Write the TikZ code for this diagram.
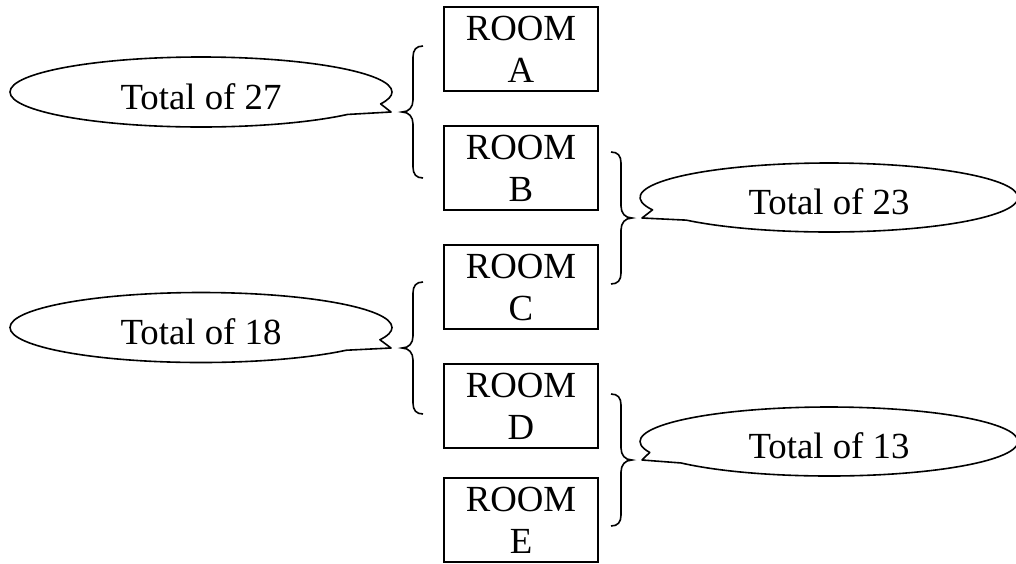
\documentclass[tikz,border=0pt]{standalone}
\usepackage{fontspec}
\setmainfont{Liberation Serif}
\usetikzlibrary{shapes.callouts,calc}
\begin{document}
\begin{tikzpicture}[x=0.5pt,y=-0.5pt,
  txt/.style={font=\fontsize{18.4}{21}\selectfont},
  room/.style={txt,draw,line width=0.9pt,minimum width=77pt,minimum height=42pt,inner sep=0pt,outer sep=0pt,align=center},
  bubble/.style={txt,ellipse callout,draw,line width=0.8pt,line join=round,minimum width=191pt,minimum height=35pt,inner sep=0pt,outer sep=0pt,callout pointer arc=20,text height=17pt,text depth=0pt},
  bracestyle/.style={line width=0.8pt},
  lbrace/.pic={\draw[bracestyle] (21,-66) .. controls (14,-66) and (11,-62) .. (11,-55) -- (11,-12) .. controls (11,-5) and (7,0) .. (0,0) .. controls (7,0) and (11,5) .. (11,12) -- (11,55) .. controls (11,62) and (14,66) .. (21,66);}
]
\useasboundingbox (0,0) rectangle (1016,563);
% rooms
\node[room] (A) at (521,49) {ROOM\\A};
\node[room] (B) at (521,168) {ROOM\\B};
\node[room] (C) at (521,287) {ROOM\\C};
\node[room] (D) at (521,406) {ROOM\\D};
\node[room] (E) at (521,520) {ROOM\\E};
% brace tips
\coordinate (t27) at (402,112);
\coordinate (t18) at (402,348);
\coordinate (t23) at (632,218);
\coordinate (t13) at (632,460);
\pic at (t27) {lbrace};
\pic at (t18) {lbrace};
\pic[xscale=-1] at (t23) {lbrace};
\pic[xscale=-1] at (t13) {lbrace};
% callouts
\node[bubble,callout absolute pointer={($(t27)+(-11,0)$)}] (c27) at (201,92) {Total of 27};
\node[bubble,callout absolute pointer={($(t18)+(-11,0)$)}] (c18) at (201,327.5) {Total of 18};
\node[bubble,minimum width=189pt,minimum height=34.5pt,callout absolute pointer={($(t23)+(10,0)$)}] (c23) at (829,197.5) {Total of 23};
\node[bubble,minimum width=189pt,minimum height=34.5pt,callout absolute pointer={($(t13)+(10,0)$)}] (c13) at (829,441.5) {Total of 13};
\end{tikzpicture}
\end{document}
